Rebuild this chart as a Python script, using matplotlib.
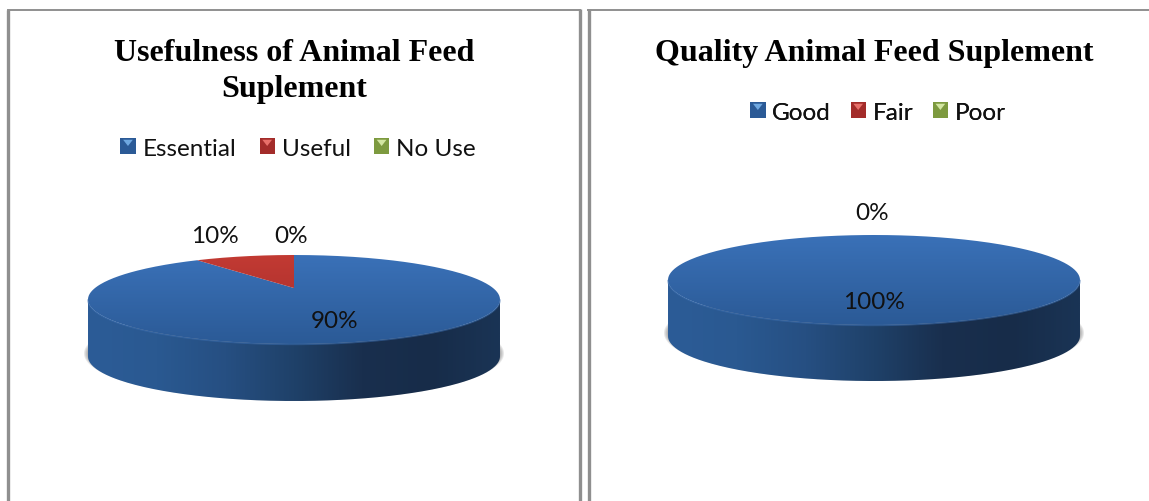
import numpy as np
import matplotlib
matplotlib.use('Agg')
import matplotlib.pyplot as plt
from matplotlib.colors import LinearSegmentedColormap
from matplotlib.legend_handler import HandlerBase
from matplotlib.patches import Patch, PathPatch, Polygon, Rectangle
from matplotlib.path import Path

# chart values
left_title = 'Usefulness of Animal Feed\nSuplement'
left_labels = ['Essential', 'Useful', 'No Use']
left_values = [90, 10, 0]
right_title = 'Quality Animal Feed Suplement'
right_labels = ['Good', 'Fair', 'Poor']
right_values = [100, 0, 0]

# slice colours: top of the gradient, bottom of the gradient, legend highlight
slice_colors = [('#3a71b8', '#2b5a96', '#6fa8e0'),
                ('#c23a33', '#a32c2a', '#e8706a'),
                ('#9bbb59', '#7d9a3f', '#d3e6a2')]
side_cmap = LinearSegmentedColormap.from_list(
    'side', ['#2c5c97', '#2a5991', '#264f82', '#1f4169', '#192f4e', '#172c49', '#1a3455'])

BORDER = '#8f8f8f'
LABEL_FONT = ['Lato', 'DejaVu Sans']

fig = plt.figure(figsize=(11.49, 5.02), dpi=100)
ax = fig.add_axes([0, 0, 1, 1])
ax.set_xlim(0, 1149)
ax.set_ylim(502, 0)
ax.axis('off')


class SwatchHandler(HandlerBase):
    # little square with the lighter notch on top, like office legends
    def create_artists(self, legend, orig_handle, xdescent, ydescent, width, height, fontsize, trans):
        base, light = orig_handle.get_facecolor(), orig_handle.get_edgecolor()
        size = 11
        x0 = width - size
        y0 = (height - size) / 2
        square = Rectangle((x0, y0), size, size, facecolor=base, edgecolor='none', transform=trans)
        notch = Polygon([(x0 + 2, y0 + size - 1), (x0 + size - 2, y0 + size - 1), (x0 + size / 2, y0 + size / 2)],
                        facecolor=light, edgecolor='none', transform=trans)
        return [square, notch]


def project(theta, cx, cy, a, b, k):
    # circle point to ellipse, pie centre ends up above the ellipse centre
    x = np.sin(theta)
    y = np.cos(theta)
    d = 1 + k * y
    return cx + a * x * np.sqrt(1 - k * k) / d, cy - b * (y + k) / d


def fill_gradient(patch, cmap, extent, horizontal):
    ax.add_patch(patch)
    grad = np.linspace(0, 1, 256)
    grad = grad.reshape(1, -1) if horizontal else grad.reshape(-1, 1)
    im = ax.imshow(grad, cmap=cmap, extent=extent, aspect='auto', zorder=patch.get_zorder(), origin='upper')
    im.set_clip_path(patch)


def draw_pie(values, cx, cy, a, b, depth, k):
    # soft shadow under the side wall
    t = np.linspace(0, 2 * np.pi, 200)
    for i in range(6):
        sx = cx + (a + 4 - i) * np.cos(t)
        sy = cy + depth + (b + 3 - i) * np.sin(t) - 3
        ax.fill(sx, sy, color='#707070', alpha=0.16, lw=0, zorder=1)

    # side wall
    t = np.linspace(0, np.pi, 200)
    xs = cx + a * np.cos(t)
    ys = cy + b * np.sin(t)
    verts = np.vstack([np.column_stack([xs, ys + depth]), np.column_stack([xs[::-1], ys[::-1]])])
    wall = PathPatch(Path(verts), facecolor='none', edgecolor='none', zorder=2)
    fill_gradient(wall, side_cmap, (cx - a, cx + a, cy + b + depth, cy), True)

    # slices, clockwise from twelve o'clock
    tip = (cx, cy - b * k)
    start = 0.0
    total = sum(values)
    for value, colors in zip(values, slice_colors):
        if value == 0:
            continue
        end = start + 2 * np.pi * value / total
        th = np.linspace(start, end, 300)
        px, py = project(th, cx, cy, a, b, k)
        pts = np.column_stack([px, py])
        if value < total:
            pts = np.vstack([[tip], pts])
        cmap = LinearSegmentedColormap.from_list('top', [colors[0], colors[1]])
        patch = PathPatch(Path(pts), facecolor='none', edgecolor='none', zorder=3)
        fill_gradient(patch, cmap, (cx - a, cx + a, cy + b, cy - b), False)
        start = end

    # light rim along the front edge
    ax.plot(xs, ys + 0.5, color='#3a6cad', lw=1.0, alpha=0.55, zorder=4)


def draw_legend(labels, anchor_x, anchor_y, spacing):
    handles = [Patch(facecolor=c[1], edgecolor=c[2]) for c in slice_colors]
    leg = ax.legend(handles, labels, ncol=3, loc='center', frameon=False,
                    bbox_to_anchor=(anchor_x, anchor_y), bbox_transform=ax.transData,
                    handler_map={Patch: SwatchHandler()}, handlelength=0.63, handletextpad=0.28,
                    columnspacing=spacing, borderpad=0, borderaxespad=0,
                    prop={'family': LABEL_FONT, 'size': 17.5}, labelcolor='#111111')
    ax.add_artist(leg)


# panel borders
ax.plot([8, 8], [502, 10.5], color=BORDER, lw=2.4, solid_capstyle='butt')
ax.plot([8, 580], [10.5, 10.5], color=BORDER, lw=1.4)
ax.plot([579.5, 579.5], [10, 502], color=BORDER, lw=2.4, solid_capstyle='butt')
ax.plot([588.5, 588.5], [10, 502], color=BORDER, lw=2.4, solid_capstyle='butt')
ax.plot([588, 1149], [10.5, 10.5], color=BORDER, lw=1.4)

# titles
ax.text(294, 71.5, left_title, ha='center', va='center', family='Liberation Serif',
        weight='bold', fontsize=23, linespacing=1.34, color='black')
ax.text(874, 53.5, right_title, ha='center', va='center', family='Liberation Serif',
        weight='bold', fontsize=23, color='black')

draw_legend(left_labels, 298, 149, 0.96)
draw_legend(right_labels, 878, 113, 0.8)

draw_pie(left_values, 294, 300.5, 206, 44.5, 57, 0.258)
draw_pie(right_values, 874, 281, 206, 45, 56, 0.258)

# data labels
for x, y, txt in [(215, 237, f'{left_values[1]}%'), (291, 237, f'{left_values[2]}%'),
                  (335, 322, f'{left_values[0]}%'), (872, 214, f'{right_values[1]}%'),
                  (874, 303, f'{right_values[0]}%')]:
    ax.text(x, y, txt, ha='center', va='center', family=LABEL_FONT, fontsize=17.5, color='#111111', zorder=6)

ax.set_xlim(0, 1149)
ax.set_ylim(502, 0)
fig.savefig('out.png', dpi=100, facecolor='white')
